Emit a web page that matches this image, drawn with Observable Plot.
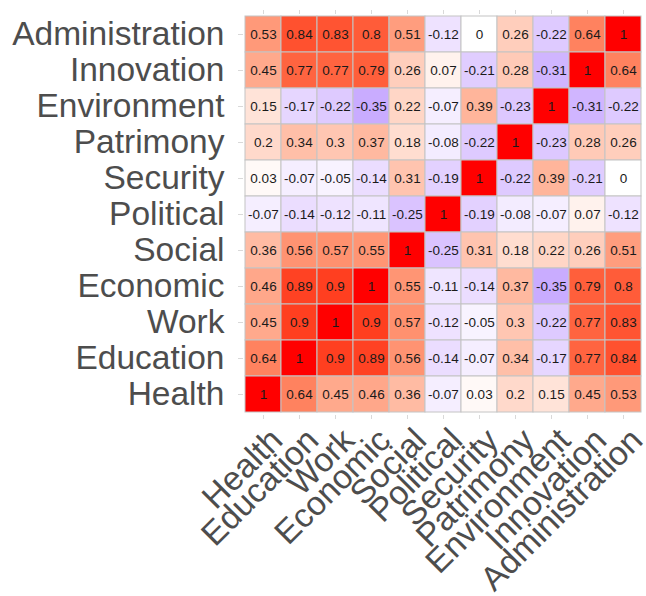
<!DOCTYPE html>
<html>
<head>
<meta charset="utf-8">
<script src="https://cdn.jsdelivr.net/npm/d3@7"></script>
<script src="https://cdn.jsdelivr.net/npm/@observablehq/plot@0.6"></script>
<style>
  html, body { margin: 0; padding: 0; background: #fff; }
</style>
</head>
<body>
<div id="chart"></div>
<script>
// Column categories (left to right)
const columns = ["Health","Education","Work","Economic","Social","Political","Security","Patrimony","Environment","Innovation","Administration"];
// Row categories (top to bottom)
const rowsTopDown = ["Administration","Innovation","Environment","Patrimony","Security","Political","Social","Economic","Work","Education","Health"];

// Correlation values per row (columns in the order above)
const administration = [0.53, 0.84, 0.83, 0.8, 0.51, -0.12, 0, 0.26, -0.22, 0.64, 1];
const innovation     = [0.45, 0.77, 0.77, 0.79, 0.26, 0.07, -0.21, 0.28, -0.31, 1, 0.64];
const environment    = [0.15, -0.17, -0.22, -0.35, 0.22, -0.07, 0.39, -0.23, 1, -0.31, -0.22];
const patrimony      = [0.2, 0.34, 0.3, 0.37, 0.18, -0.08, -0.22, 1, -0.23, 0.28, 0.26];
const security       = [0.03, -0.07, -0.05, -0.14, 0.31, -0.19, 1, -0.22, 0.39, -0.21, 0];
const political      = [-0.07, -0.14, -0.12, -0.11, -0.25, 1, -0.19, -0.08, -0.07, 0.07, -0.12];
const social         = [0.36, 0.56, 0.57, 0.55, 1, -0.25, 0.31, 0.18, 0.22, 0.26, 0.51];
const economic       = [0.46, 0.89, 0.9, 1, 0.55, -0.11, -0.14, 0.37, -0.35, 0.79, 0.8];
const work           = [0.45, 0.9, 1, 0.9, 0.57, -0.12, -0.05, 0.3, -0.22, 0.77, 0.83];
const education      = [0.64, 1, 0.9, 0.89, 0.56, -0.14, -0.07, 0.34, -0.17, 0.77, 0.84];
const health         = [1, 0.64, 0.45, 0.46, 0.36, -0.07, 0.03, 0.2, 0.15, 0.45, 0.53];

const rowValues = {
  Administration: administration, Innovation: innovation, Environment: environment,
  Patrimony: patrimony, Security: security, Political: political, Social: social,
  Economic: economic, Work: work, Education: education, Health: health
};

const data = [];
for (const r of rowsTopDown) {
  rowValues[r].forEach((v, j) => data.push({x: columns[j], y: r, v}));
}

const font = "'Liberation Sans', Arial, sans-serif";
const labelColor = "#4d4d4d";
const tickColor = "#d9d9d9";

const chart = Plot.plot({
  width: 646,
  height: 596,
  marginLeft: 243,
  marginRight: 3,
  marginTop: 13,
  marginBottom: 181,
  style: {fontFamily: font, background: "white", overflow: "visible"},
  x: {domain: columns, padding: 0, label: null},
  y: {domain: rowsTopDown, padding: 0, label: null},
  color: {type: "linear", domain: [-1, 0, 1], range: ["blue", "white", "red"], interpolate: "lab"},
  marks: [
    Plot.axisX({anchor: "top", text: null, tickSize: 4, stroke: tickColor, label: null}),
    Plot.axisX({anchor: "bottom", text: null, tickSize: 4, stroke: tickColor, label: null}),
    Plot.axisY({anchor: "left", text: null, tickSize: 5, stroke: tickColor, label: null}),
    Plot.cell(data, {x: "x", y: "y", fill: "v", stroke: "#c4c4c4", strokeWidth: 1, inset: 0}),
    Plot.text(data, {x: "x", y: "y", text: d => String(d.v), fontSize: 13.5, fill: "#1a1a1a"}),
    Plot.axisY({anchor: "left", tickSize: 0, tickPadding: 19, fontSize: 33.5, fill: labelColor, label: null}),
    Plot.text(columns, {x: d => d, frameAnchor: "bottom", rotate: -45, textAnchor: "end", lineAnchor: "top", dx: 4, dy: 10, fontSize: 33.5, fill: labelColor})
  ]
});

document.getElementById("chart").appendChild(chart);
</script>
</body>
</html>
